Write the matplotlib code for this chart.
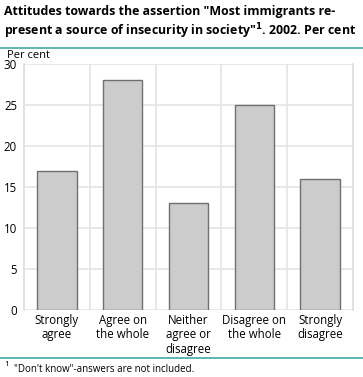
import matplotlib
matplotlib.use("Agg")
import matplotlib.pyplot as plt
from matplotlib.lines import Line2D

categories = ["Strongly\nagree", "Agree on\nthe whole", "Neither\nagree or\ndisagree",
              "Disagree on\nthe whole", "Strongly\ndisagree"]
values = [17, 28, 13, 25, 16]
yticks = [0, 5, 10, 15, 20, 25, 30]

plt.rcParams['font.family'] = ['Open Sans', 'DejaVu Sans']

W, H = 363, 377
fig = plt.figure(figsize=(W / 100, H / 100), dpi=100)
ax = fig.add_axes([24 / W, 1 - 310 / H, (353 - 24) / W, (310 - 64) / H])

x = list(range(len(values)))
ax.bar(x, values, width=0.6, color="#cccccc", edgecolor="#707070", linewidth=1, zorder=3)
ax.set_xlim(-0.5, len(values) - 0.5)
ax.set_ylim(0, 30)
ax.set_yticks(yticks)
ax.set_yticklabels([str(t) for t in yticks], fontsize=8.3)
ax.set_xticks(x)
ax.set_xticklabels(categories, fontsize=8.3, linespacing=1.12)
ax.tick_params(axis="x", length=0, pad=3, colors="black")
ax.tick_params(axis="y", length=0, pad=5, colors="black")
ax.grid(axis="y", color="#e4e4e4", linewidth=1.2, zorder=0)
for b in [0.5, 1.5, 2.5, 3.5]:
    ax.axvline(b, color="#e4e4e4", linewidth=1.2, zorder=0)
for s in ["top", "bottom"]:
    ax.spines[s].set_visible(False)
for s in ["left", "right"]:
    ax.spines[s].set_color("#dcdcdc")
    ax.spines[s].set_linewidth(1.2)

fig.text(4 / W, 1 - 5 / H,
         'Attitudes towards the assertion "Most immigrants re-\npresent a source of insecurity in society"$^{\\mathbf{1}}$. 2002. Per cent',
         fontsize=8.95, fontweight="bold", va="top", ha="left", linespacing=1.22)
fig.add_artist(Line2D([0, 1], [1 - 48 / H, 1 - 48 / H], color="#3fa9a9", linewidth=1.2))
fig.text(7 / W, 1 - 55 / H, "Per cent", fontsize=8, va="center", ha="left")
fig.add_artist(Line2D([0, 1], [1 - 358 / H, 1 - 358 / H], color="#3fa9a9", linewidth=1.2))
fig.text(4 / W, 1 - 364 / H, "1", fontsize=6, va="center", ha="left")
fig.text(14 / W, 1 - 369 / H, '"Don\'t know"-answers are not included.', fontsize=7, va="center", ha="left")

fig.savefig("out.png", dpi=100)
